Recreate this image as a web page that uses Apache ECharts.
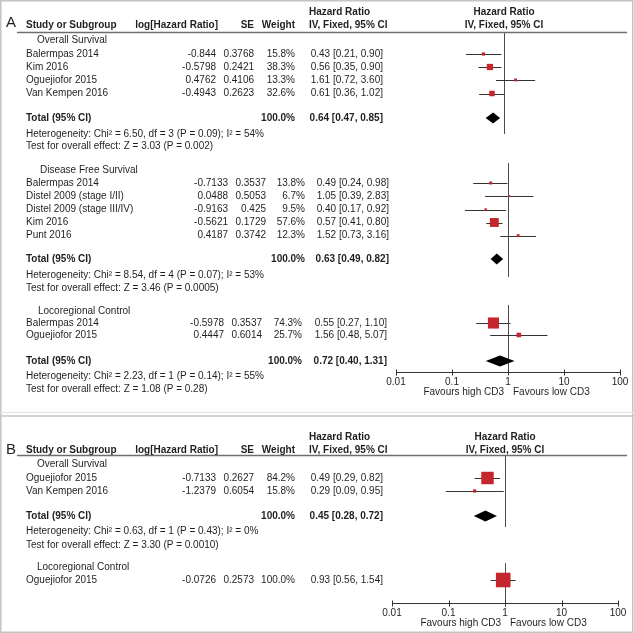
<!DOCTYPE html>
<html><head><meta charset="utf-8">
<script src="https://cdn.jsdelivr.net/npm/echarts@6.0.0/dist/echarts.min.js"></script>
<style>html,body{margin:0;padding:0;background:#fff}#c{width:634px;height:633px}</style>
</head><body><div id="c"></div>
<script>
// ---------------- DATA ----------------
const tickLabels = ['0.01', '0.1', '1', '10', '100'];
const favours = ['Favours high CD3', 'Favours low CD3'];
const headerCols = ['Study or Subgroup', 'log[Hazard Ratio]', 'SE', 'Weight', 'Hazard Ratio', 'IV, Fixed, 95% CI'];
const panelLetters = ['A', 'B'];

// Panel A - Overall Survival
const aOsLabel = 'Overall Survival';
const aOsStudies = ['Balermpas 2014', 'Kim 2016', 'Oguejiofor 2015', 'Van Kempen 2016'];
const aOsLogHR = ['-0.844', '-0.5798', '0.4762', '-0.4943'];
const aOsSE = ['0.3768', '0.2421', '0.4106', '0.2623'];
const aOsWeight = [15.8, 38.3, 13.3, 32.6];
const aOsHR = [0.43, 0.56, 1.61, 0.61];
const aOsLo = [0.21, 0.35, 0.72, 0.36];
const aOsHi = [0.90, 0.90, 3.60, 1.02];
const aOsTotal = [0.64, 0.47, 0.85];
const aOsTotalWeight = 100.0;
const aOsHet = 'Heterogeneity: Chi² = 6.50, df = 3 (P = 0.09); I² = 54%';
const aOsTest = 'Test for overall effect: Z = 3.03 (P = 0.002)';

// Panel A - Disease Free Survival
const aDfsLabel = 'Disease Free Survival';
const aDfsStudies = ['Balermpas 2014', 'Distel 2009 (stage I/II)', 'Distel 2009 (stage III/IV)', 'Kim 2016', 'Punt 2016'];
const aDfsLogHR = ['-0.7133', '0.0488', '-0.9163', '-0.5621', '0.4187'];
const aDfsSE = ['0.3537', '0.5053', '0.425', '0.1729', '0.3742'];
const aDfsWeight = [13.8, 6.7, 9.5, 57.6, 12.3];
const aDfsHR = [0.49, 1.05, 0.40, 0.57, 1.52];
const aDfsLo = [0.24, 0.39, 0.17, 0.41, 0.73];
const aDfsHi = [0.98, 2.83, 0.92, 0.80, 3.16];
const aDfsTotal = [0.63, 0.49, 0.82];
const aDfsTotalWeight = 100.0;
const aDfsHet = 'Heterogeneity: Chi² = 8.54, df = 4 (P = 0.07); I² = 53%';
const aDfsTest = 'Test for overall effect: Z = 3.46 (P = 0.0005)';

// Panel A - Locoregional Control
const aLrLabel = 'Locoregional Control';
const aLrStudies = ['Balermpas 2014', 'Oguejiofor 2015'];
const aLrLogHR = ['-0.5978', '0.4447'];
const aLrSE = ['0.3537', '0.6014'];
const aLrWeight = [74.3, 25.7];
const aLrHR = [0.55, 1.56];
const aLrLo = [0.27, 0.48];
const aLrHi = [1.10, 5.07];
const aLrTotal = [0.72, 0.40, 1.31];
const aLrTotalWeight = 100.0;
const aLrHet = 'Heterogeneity: Chi² = 2.23, df = 1 (P = 0.14); I² = 55%';
const aLrTest = 'Test for overall effect: Z = 1.08 (P = 0.28)';

// Panel B - Overall Survival
const bOsLabel = 'Overall Survival';
const bOsStudies = ['Oguejiofor 2015', 'Van Kempen 2016'];
const bOsLogHR = ['-0.7133', '-1.2379'];
const bOsSE = ['0.2627', '0.6054'];
const bOsWeight = [84.2, 15.8];
const bOsHR = [0.49, 0.29];
const bOsLo = [0.29, 0.09];
const bOsHi = [0.82, 0.95];
const bOsTotal = [0.45, 0.28, 0.72];
const bOsTotalWeight = 100.0;
const bOsHet = 'Heterogeneity: Chi² = 0.63, df = 1 (P = 0.43); I² = 0%';
const bOsTest = 'Test for overall effect: Z = 3.30 (P = 0.0010)';

// Panel B - Locoregional Control
const bLrLabel = 'Locoregional Control';
const bLrStudies = ['Oguejiofor 2015'];
const bLrLogHR = ['-0.0726'];
const bLrSE = ['0.2573'];
const bLrWeight = [100.0];
const bLrHR = [0.93];
const bLrLo = [0.56];
const bLrHi = [1.54];

// ---------------- LAYOUT (positions / styles only) ----------------
const FONT = '"Liberation Sans", Arial, Helvetica, sans-serif';
const TXT = '#1f1f1f';
const RED = '#c5262d';
const sections = [
  { grid: 0, label: aOsLabel, studies: aOsStudies, log: aOsLogHR, se: aOsSE, w: aOsWeight, hr: aOsHR, lo: aOsLo, hi: aOsHi, total: aOsTotal, tw: aOsTotalWeight, het: aOsHet, test: aOsTest,
    lay: { labelY: 40, rowY: [54, 67, 80, 93.5], totalY: 118, hetY: 134, testY: 146, ref: [32, 134], labelX: 37, cols: [216, 254, 295, 383] } },
  { grid: 1, label: aDfsLabel, studies: aDfsStudies, log: aDfsLogHR, se: aDfsSE, w: aDfsWeight, hr: aDfsHR, lo: aDfsLo, hi: aDfsHi, total: aDfsTotal, tw: aDfsTotalWeight, het: aDfsHet, test: aDfsTest,
    lay: { labelY: 170, rowY: [183, 196, 209.5, 222.5, 235.5], totalY: 259, hetY: 275, testY: 288, ref: [163, 277], labelX: 40, cols: [228, 266, 305, 389] } },
  { grid: 1, label: aLrLabel, studies: aLrStudies, log: aLrLogHR, se: aLrSE, w: aLrWeight, hr: aLrHR, lo: aLrLo, hi: aLrHi, total: aLrTotal, tw: aLrTotalWeight, het: aLrHet, test: aLrTest,
    lay: { labelY: 311, rowY: [323, 335], totalY: 361, hetY: 376, testY: 389, ref: [305, 372], labelX: 38, cols: [224, 262, 302, 387] } },
  { grid: 2, label: bOsLabel, studies: bOsStudies, log: bOsLogHR, se: bOsSE, w: bOsWeight, hr: bOsHR, lo: bOsLo, hi: bOsHi, total: bOsTotal, tw: bOsTotalWeight, het: bOsHet, test: bOsTest,
    lay: { labelY: 464, rowY: [478, 491], totalY: 516, hetY: 531, testY: 545, ref: [455, 527], labelX: 37, cols: [216, 254, 295, 383] } },
  { grid: 2, label: bLrLabel, studies: bLrStudies, log: bLrLogHR, se: bLrSE, w: bLrWeight, hr: bLrHR, lo: bLrLo, hi: bLrHi, total: null,
    lay: { labelY: 567, rowY: [580], ref: [563, 603], labelX: 37, cols: [216, 254, 295, 383] } }
];
const headers = [
  { grid: 0, letterY: 23, line1: 12, line2: 25, rule: 31.5 },
  { grid: 2, letterY: 450, line1: 437, line2: 450, rule: 455.5 }
];
const axesLay = [{ grid: 1, y: 372, favY: 392 }, { grid: 2, y: 603, favY: 623 }];
const NAME_X = 26;

function txt(x, y, s, opt) {
  opt = opt || {};
  const sz = opt.size || 10;
  return { type: 'text', x: x, y: y, style: { text: s, font: (opt.bold ? 'bold ' : '') + sz + 'px ' + FONT,
    lineHeight: sz, fill: TXT, align: opt.align || 'left', verticalAlign: 'middle' } };
}

const series = [];
sections.forEach(function (sec) {
  const L = sec.lay;
  const g = sec.grid;
  series.push({ type: 'custom', xAxisIndex: g, yAxisIndex: g, silent: true, z: 2, clip: false,
    data: [[1, L.ref[0], L.ref[1]]],
    renderItem: function (p, api) {
      const a = api.coord([1, api.value(1)]), b = api.coord([1, api.value(2)]);
      const x = Math.round(a[0]) + 0.5;
      return { type: 'line', shape: { x1: x, y1: a[1], x2: x, y2: b[1] }, style: { stroke: '#4a4a4a', lineWidth: 1 } };
    } });
  series.push({ type: 'custom', xAxisIndex: g, yAxisIndex: g, silent: true, z: 3, clip: false,
    data: sec.hr.map(function (v, i) { return [v, sec.lo[i], sec.hi[i], L.rowY[i], sec.w[i]]; }),
    renderItem: function (p, api) {
      const y = api.value(3);
      const c = api.coord([api.value(0), y]), l = api.coord([api.value(1), y]), h = api.coord([api.value(2), y]);
      const s = 1.1 + 0.135 * api.value(4);
      const yy = Math.round(c[1]) + 0.5;
      return { type: 'group', children: [
        { type: 'line', shape: { x1: l[0], y1: yy, x2: h[0], y2: yy }, style: { stroke: '#333', lineWidth: 1 } },
        { type: 'rect', shape: { x: c[0] - s / 2, y: c[1] - s / 2, width: s, height: s }, style: { fill: RED } }
      ] };
    } });
  if (sec.total) {
    series.push({ type: 'custom', xAxisIndex: g, yAxisIndex: g, silent: true, z: 4, clip: false,
      data: [[sec.total[0], sec.total[1], sec.total[2], L.totalY]],
      renderItem: function (p, api) {
        const y = api.value(3);
        const c = api.coord([api.value(0), y]), l = api.coord([api.value(1), y]), h = api.coord([api.value(2), y]);
        return { type: 'polygon', shape: { points: [[l[0], c[1]], [c[0], c[1] - 5.5], [h[0], c[1]], [c[0], c[1] + 5.5]] }, style: { fill: '#000' } };
      } });
  }
  series.push({ type: 'custom', xAxisIndex: g, yAxisIndex: g, silent: true, z: 5, clip: false,
    data: [[1, L.labelY]],
    renderItem: function (p, api) {
      const Y = function (v) { return api.coord([1, v])[1]; };
      const C = L.cols;
      const ch = [txt(L.labelX, Y(L.labelY), sec.label)];
      sec.studies.forEach(function (name, i) {
        const y = Y(L.rowY[i]);
        ch.push(txt(NAME_X, y, name));
        ch.push(txt(C[0], y, sec.log[i], { align: 'right' }));
        ch.push(txt(C[1], y, sec.se[i], { align: 'right' }));
        ch.push(txt(C[2], y, sec.w[i].toFixed(1) + '%', { align: 'right' }));
        ch.push(txt(C[3], y, sec.hr[i].toFixed(2) + ' [' + sec.lo[i].toFixed(2) + ', ' + sec.hi[i].toFixed(2) + ']', { align: 'right' }));
      });
      if (sec.total) {
        const y = Y(L.totalY);
        ch.push(txt(NAME_X, y, 'Total (95% CI)', { bold: true }));
        ch.push(txt(C[2], y, sec.tw.toFixed(1) + '%', { bold: true, align: 'right' }));
        ch.push(txt(C[3], y, sec.total[0].toFixed(2) + ' [' + sec.total[1].toFixed(2) + ', ' + sec.total[2].toFixed(2) + ']', { bold: true, align: 'right' }));
        ch.push(txt(NAME_X, Y(L.hetY), sec.het));
        ch.push(txt(NAME_X, Y(L.testY), sec.test));
      }
      return { type: 'group', children: ch };
    } });
});

headers.forEach(function (h, hi) {
  const g = h.grid;
  series.push({ type: 'custom', xAxisIndex: g, yAxisIndex: g, silent: true, z: 5, clip: false,
    data: [[1, h.line2]],
    renderItem: function (p, api) {
      const Y = function (v) { return api.coord([1, v])[1]; };
      const cx = api.coord([1, h.line2])[0];
      const ry = Math.round(Y(h.rule)) + 0.5;
      return { type: 'group', children: [
        txt(6, Y(h.letterY), panelLetters[hi], { size: 15 }),
        txt(NAME_X, Y(h.line2), headerCols[0], { bold: true }),
        txt(218, Y(h.line2), headerCols[1], { bold: true, align: 'right' }),
        txt(254, Y(h.line2), headerCols[2], { bold: true, align: 'right' }),
        txt(295, Y(h.line2), headerCols[3], { bold: true, align: 'right' }),
        txt(309, Y(h.line1), headerCols[4], { bold: true }),
        txt(309, Y(h.line2), headerCols[5], { bold: true }),
        txt(cx, Y(h.line1), headerCols[4], { bold: true, align: 'center' }),
        txt(cx, Y(h.line2), headerCols[5], { bold: true, align: 'center' }),
        { type: 'line', shape: { x1: 17, y1: ry, x2: 627, y2: ry }, style: { stroke: '#6e6e6e', lineWidth: 1.6 } }
      ] };
    } });
});
const tickValues = tickLabels.map(Number);
axesLay.forEach(function (f) {
  series.push({ type: 'custom', xAxisIndex: f.grid, yAxisIndex: f.grid, silent: true, z: 6, clip: false,
    data: [[1, f.y]],
    renderItem: function (p, api) {
      const a = api.coord([tickValues[0], f.y]), b = api.coord([tickValues[tickValues.length - 1], f.y]);
      const yy = Math.round(a[1]) + 0.5;
      const ch = [{ type: 'line', shape: { x1: a[0], y1: yy, x2: b[0], y2: yy }, style: { stroke: '#333', lineWidth: 1 } }];
      tickValues.forEach(function (t) {
        const x = Math.round(api.coord([t, f.y])[0]) + 0.5;
        ch.push({ type: 'line', shape: { x1: x, y1: yy - 3, x2: x, y2: yy + 3 }, style: { stroke: '#333', lineWidth: 1 } });
      });
      const c = api.coord([1, f.favY]);
      ch.push(txt(c[0] - 4, c[1], favours[0], { align: 'right' }));
      ch.push(txt(c[0] + 5, c[1], favours[1]));
      return { type: 'group', children: ch };
    } });
});

function tickFmt(v) { return tickLabels[Math.round(Math.log10(v)) + 2]; }
function visAxis(gi) {
  return { gridIndex: gi, type: 'log', logBase: 10, min: 0.01, max: 100, position: 'bottom',
    axisLine: { show: false, onZero: false },
    axisTick: { show: false },
    axisLabel: { formatter: tickFmt, fontSize: 10, lineHeight: 10, fontFamily: FONT, color: TXT, margin: 5 },
    splitLine: { show: false }, minorTick: { show: false } };
}

const option = {
  animation: false,
  backgroundColor: '#fff',
  grid: [
    { left: 392, width: 224, top: 0, height: 372 },
    { left: 396, width: 224, top: 0, height: 372 },
    { left: 392, width: 226, top: 0, height: 603 }
  ],
  xAxis: [
    { gridIndex: 0, type: 'log', logBase: 10, min: 0.01, max: 100, show: false },
    visAxis(1), visAxis(2)
  ],
  yAxis: [
    { gridIndex: 0, type: 'value', min: 0, max: 372, inverse: true, show: false },
    { gridIndex: 1, type: 'value', min: 0, max: 372, inverse: true, show: false },
    { gridIndex: 2, type: 'value', min: 0, max: 603, inverse: true, show: false }
  ],
  graphic: [
    { type: 'rect', shape: { x: 0.75, y: 0.75, width: 632, height: 631.5 }, style: { fill: 'none', stroke: '#c4c4c4', lineWidth: 1.5 }, silent: true },
    { type: 'line', shape: { x1: 0, y1: 412.5, x2: 634, y2: 412.5 }, style: { stroke: '#e2e2e2', lineWidth: 1 }, silent: true },
    { type: 'line', shape: { x1: 0, y1: 416, x2: 634, y2: 416 }, style: { stroke: '#c4c4c4', lineWidth: 1.5 }, silent: true }
  ],
  series: series
};
const chart = echarts.init(document.getElementById('c'), null, { renderer: 'canvas' });
chart.setOption(option);
</script>
</body></html>
